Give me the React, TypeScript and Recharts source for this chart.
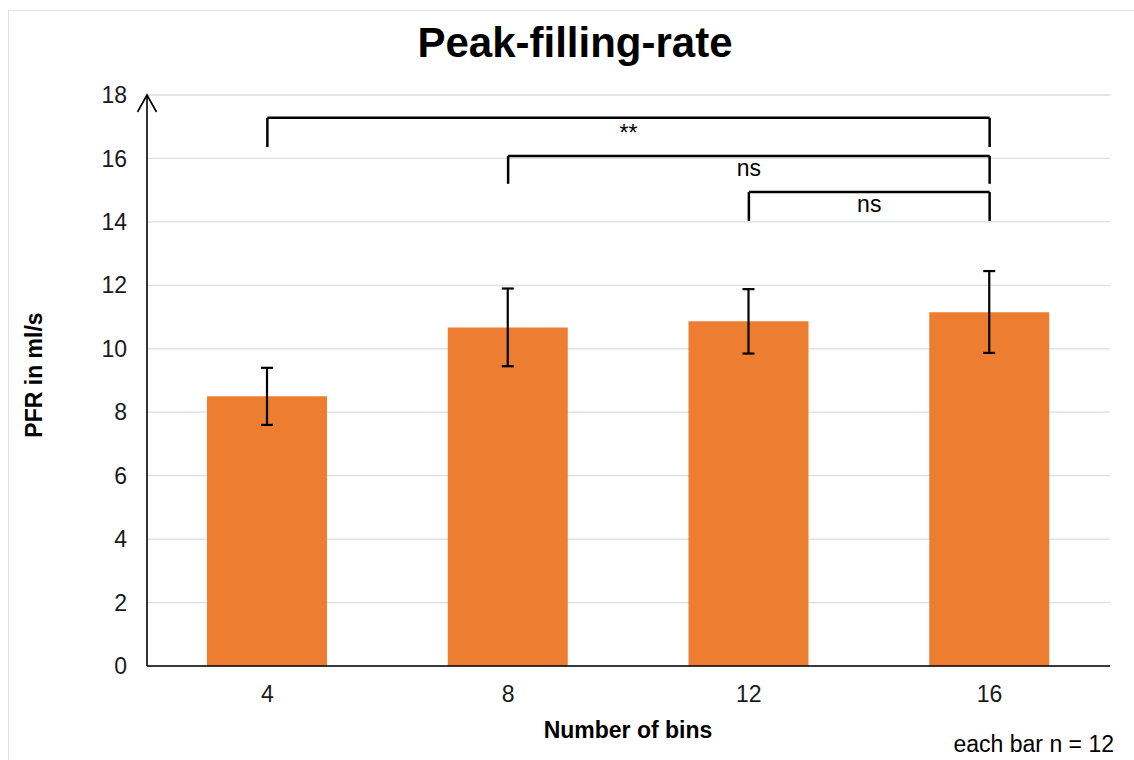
import React from "react";
import {
    BarChart, Bar, XAxis, YAxis, CartesianGrid, ErrorBar, ReferenceLine
} from "recharts";

const bins = ["4", "8", "12", "16"];
const pfrMean = [8.5, 10.67, 10.87, 11.15];
const errBelow = [0.9, 1.22, 1.02, 1.28];
const errAbove = [0.9, 1.23, 1.01, 1.3];
const yTicks = [0, 2, 4, 6, 8, 10, 12, 14, 16, 18];

// significance brackets (from bin, to bin, bar height, foot height, label)
const bracketFrom = ["4", "8", "12"];
const bracketTo = ["16", "16", "16"];
const bracketTop = [17.28, 16.08, 14.94];
const bracketFoot = [16.36, 15.2, 14.03];
const bracketText = ["**", "ns", "ns"];

const data = bins.map((b, i) => ({
    bins: b,
    pfr: pfrMean[i],
    err: [errBelow[i], errAbove[i]],
}));

const FONT = "'Liberation Sans', Arial, sans-serif";

const bracketTopShape = (label: string) => (p: any) => (
    <g>
        <line x1={p.x1} y1={p.y1} x2={p.x2} y2={p.y2} stroke="#000" strokeWidth={2.5} />
        <text
            x={(p.x1 + p.x2) / 2}
            y={p.y1 + (label === "**" ? 23 : 20)}
            textAnchor="middle"
            fontFamily={FONT}
            fontSize={23}
            fill="#000"
        >
            {label}
        </text>
    </g>
);

export default function App() {
    return (
        <div style={{ position: "absolute", left: 0, top: 0, width: 1134, height: 760, overflow: "hidden", background: "#fff" }}>
            <svg width={0} height={0} style={{ position: "absolute" }}>
                <defs>
                    <marker
                        id="yArrowHead"
                        markerUnits="userSpaceOnUse"
                        markerWidth={20}
                        markerHeight={22}
                        viewBox="0 0 20 22"
                        refX={18}
                        refY={11}
                        orient="auto-start-reverse"
                    >
                        <path d="M1,1.5 L18,11 L1,20.5" fill="none" stroke="#000" strokeWidth={1.6} />
                    </marker>
                </defs>
            </svg>
            <div style={{ position: "absolute", left: 8, top: 10, width: 1300, height: 900, border: "1px solid #dde2e8" }} />
            <div style={{ position: "absolute", left: 0, top: 0 }}>
                <BarChart
                    width={1134}
                    height={760}
                    data={data}
                    margin={{ top: 95, right: 24, bottom: 64, left: 87 }}
                >
                    <CartesianGrid vertical={false} stroke="#d9dde4" strokeWidth={1.3} />
                    <XAxis
                        dataKey="bins"
                        height={30}
                        tickLine={false}
                        tickSize={0}
                        tickMargin={20}
                        axisLine={{ stroke: "#000", strokeWidth: 1.6 }}
                        tick={{ fill: "#1a1a1a", fontSize: 23, fontFamily: FONT }}
                    />
                    <YAxis
                        width={60}
                        domain={[0, 18]}
                        ticks={yTicks}
                        tickLine={false}
                        tickSize={0}
                        tickMargin={20}
                        axisLine={{ stroke: "#000", strokeWidth: 1.6, markerStart: "url(#yArrowHead)" }}
                        tick={{ fill: "#1a1a1a", fontSize: 23, fontFamily: FONT }}
                    />
                    <Bar dataKey="pfr" fill="#ED7D31" barSize={120} isAnimationActive={false}>
                        <ErrorBar dataKey="err" direction="y" width={6} stroke="#000" strokeWidth={2.2} />
                    </Bar>
                    {bracketText.map((t, i) => (
                        <ReferenceLine
                            key={`top-${i}`}
                            segment={[{ x: bracketFrom[i], y: bracketTop[i] }, { x: bracketTo[i], y: bracketTop[i] }]}
                            shape={bracketTopShape(t)}
                        />
                    ))}
                    {bracketText.map((t, i) => (
                        <ReferenceLine
                            key={`left-${i}`}
                            segment={[{ x: bracketFrom[i], y: bracketTop[i] }, { x: bracketFrom[i], y: bracketFoot[i] }]}
                            stroke="#000"
                            strokeWidth={2.5}
                        />
                    ))}
                    {bracketText.map((t, i) => (
                        <ReferenceLine
                            key={`right-${i}`}
                            segment={[{ x: bracketTo[i], y: bracketTop[i] }, { x: bracketTo[i], y: bracketFoot[i] }]}
                            stroke="#000"
                            strokeWidth={2.5}
                        />
                    ))}
                </BarChart>
            </div>
            <svg width={1134} height={760} style={{ position: "absolute", left: 0, top: 0, pointerEvents: "none" }}>
                <text x={575} y={57} textAnchor="middle" fontFamily={FONT} fontWeight="bold" fontSize={42} fill="#000">
                    Peak-filling-rate
                </text>
                <text x={628} y={738} textAnchor="middle" fontFamily={FONT} fontWeight="bold" fontSize={23} fill="#000">
                    Number of bins
                </text>
                <text
                    transform="translate(42,375) rotate(-90)"
                    textAnchor="middle"
                    fontFamily={FONT}
                    fontWeight="bold"
                    fontSize={23}
                    fill="#000"
                >
                    PFR in ml/s
                </text>
                <text x={1114} y={752} textAnchor="end" fontFamily={FONT} fontSize={23} fill="#000">
                    each bar n = 12
                </text>
            </svg>
        </div>
    );
}
